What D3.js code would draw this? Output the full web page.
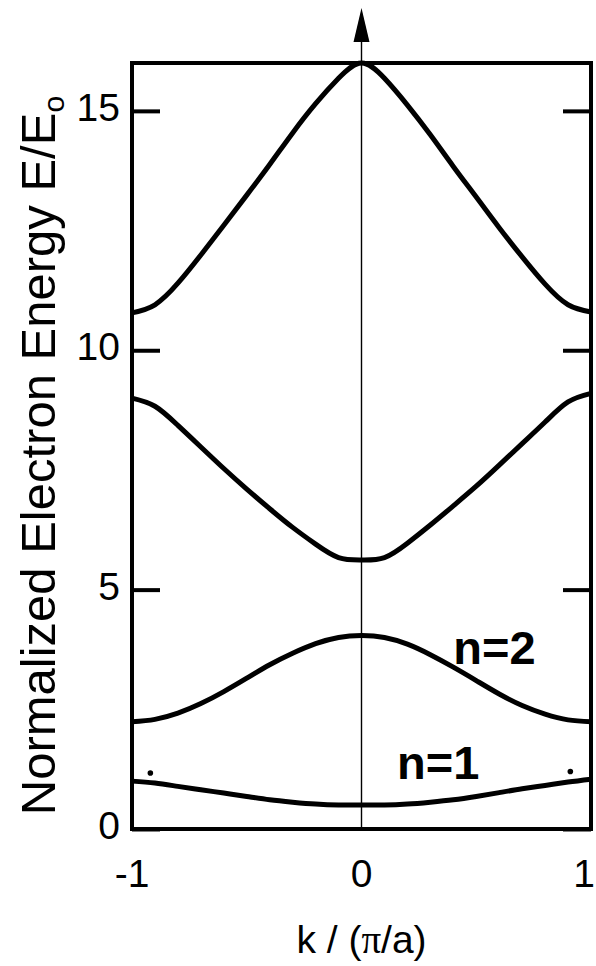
<!DOCTYPE html>
<html>
<head>
<meta charset="utf-8">
<script src="https://cdn.jsdelivr.net/npm/d3@7"></script>
<style>
  body { margin: 0; background: #fff; }
  text { font-family: "Liberation Sans", Arial, sans-serif; fill: #000; }
</style>
</head>
<body>
<div id="chart"></div>
<script>
// k values, in units of pi/a
var kValues = [-1, -0.9, -0.8, -0.7, -0.6, -0.5, -0.4, -0.3, -0.2, -0.1, 0,
               0.1, 0.2, 0.3, 0.4, 0.5, 0.6, 0.7, 0.8, 0.9, 1];

// normalized energies E/Eo, one array per band
var band1 = [1.00, 0.96, 0.89, 0.82, 0.75, 0.68, 0.61, 0.56, 0.52, 0.50, 0.50,
             0.50, 0.52, 0.56, 0.61, 0.68, 0.76, 0.84, 0.91, 0.98, 1.04];
var band2 = [2.24, 2.29, 2.42, 2.62, 2.87, 3.15, 3.43, 3.67, 3.87, 4.00, 4.04,
             4.00, 3.86, 3.64, 3.38, 3.10, 2.82, 2.58, 2.40, 2.28, 2.24];
var band3 = [9.00, 8.83, 8.43, 7.98, 7.53, 7.10, 6.69, 6.30, 5.95, 5.67, 5.62,
             5.67, 5.97, 6.35, 6.75, 7.16, 7.60, 8.05, 8.50, 8.92, 9.10];
var band4 = [10.78, 10.95, 11.40, 11.99, 12.61, 13.24, 13.88, 14.54, 15.15, 15.68, 16.00,
             15.68, 15.12, 14.50, 13.84, 13.20, 12.56, 11.95, 11.38, 10.95, 10.80];
var bands = [band1, band2, band3, band4];

var yTicks = [0, 5, 10, 15];
var xTicks = [-1, 0, 1];
var xTickLabels = ["-1", "0", "1"];

// band labels
var bandLabels = [{ text: "n=2", k: 0.40, e: 3.45 }, { text: "n=1", k: 0.155, e: 1.05 }];

// the two small dots near the ends of n=1
var dotsK = [-0.92, 0.91];
var dotsE = [1.17, 1.20];

var margin = { left: 132, right: 5, top: 63, bottom: 137 };
var width = 596, height = 966;

var x = d3.scaleLinear().domain([-1, 1]).range([margin.left, width - margin.right]);
var y = d3.scaleLinear().domain([0, 16]).range([height - margin.bottom, margin.top]);

var svg = d3.select("#chart").append("svg")
            .attr("width", width)
            .attr("height", height);

// center line k = 0 with arrow on top
svg.append("line")
   .attr("x1", x(0)).attr("x2", x(0))
   .attr("y1", 40).attr("y2", y(0))
   .attr("stroke", "#000")
   .attr("stroke-width", 1.4);

svg.append("path")
   .attr("d", "M" + x(0) + ",8 L" + (x(0) + 8) + ",42 L" + (x(0) - 8) + ",42 Z")
   .attr("fill", "#000");

// frame
svg.append("rect")
   .attr("x", x(-1)).attr("y", y(16))
   .attr("width", x(1) - x(-1))
   .attr("height", y(0) - y(16))
   .attr("fill", "none")
   .attr("stroke", "#000")
   .attr("stroke-width", 4);

// inward ticks on both sides
var leftAxis = d3.axisRight(y).tickValues(yTicks).tickSize(28).tickFormat("");
var rightAxis = d3.axisLeft(y).tickValues(yTicks).tickSize(28).tickFormat("");

svg.append("g").attr("transform", "translate(" + x(-1) + ",0)").call(leftAxis);
svg.append("g").attr("transform", "translate(" + x(1) + ",0)").call(rightAxis);
svg.selectAll(".domain").remove();
svg.selectAll(".tick line").attr("stroke", "#000").attr("stroke-width", 4);

// tick labels
svg.selectAll(".ylab")
   .data(yTicks)
   .enter().append("text")
   .attr("x", 120)
   .attr("y", function(d) { return y(d) - 4; })
   .attr("dy", "0.36em")
   .attr("text-anchor", "end")
   .style("font-size", "39px")
   .text(function(d) { return d; });

svg.selectAll(".xlab")
   .data(xTicks)
   .enter().append("text")
   .attr("x", function(d) { return Math.min(x(d), width - 12); })
   .attr("y", 887)
   .attr("text-anchor", "middle")
   .style("font-size", "39px")
   .text(function(d, i) { return xTickLabels[i]; });

// bands
var line = d3.line()
             .x(function(d, i) { return x(kValues[i]); })
             .y(function(d) { return y(d); })
             .curve(d3.curveNatural);

svg.selectAll(".band")
   .data(bands)
   .enter().append("path")
   .attr("class", "band")
   .attr("d", line)
   .attr("fill", "none")
   .attr("stroke", "#000")
   .attr("stroke-width", 5)
   .attr("stroke-linejoin", "round");

svg.selectAll(".dot")
   .data(dotsK)
   .enter().append("circle")
   .attr("cx", function(d) { return x(d); })
   .attr("cy", function(d, i) { return y(dotsE[i]); })
   .attr("r", 2.8)
   .attr("fill", "#000");

// labels n=1, n=2
svg.selectAll(".nlab")
   .data(bandLabels)
   .enter().append("text")
   .attr("x", function(d) { return x(d.k); })
   .attr("y", function(d) { return y(d.e); })
   .style("font-size", "47px")
   .style("font-weight", "bold")
   .text(function(d) { return d.text; });

// axis titles
var xt = svg.append("text")
            .attr("x", x(0))
            .attr("y", 953)
            .attr("text-anchor", "middle")
            .style("font-size", "39px");
xt.append("tspan").text("k / (");
xt.append("tspan").style("font-family", "'Liberation Serif', serif").text("\u03c0");
xt.append("tspan").text("/a)");

var yt = svg.append("text")
            .attr("transform", "translate(55," + y(7.8) + ") rotate(-90)")
            .attr("text-anchor", "middle")
            .style("font-size", "49px");
yt.append("tspan").text("Normalized Electron Energy E/E");
yt.append("tspan").attr("dy", 9).style("font-size", "30px").text("o");
</script>
</body>
</html>
